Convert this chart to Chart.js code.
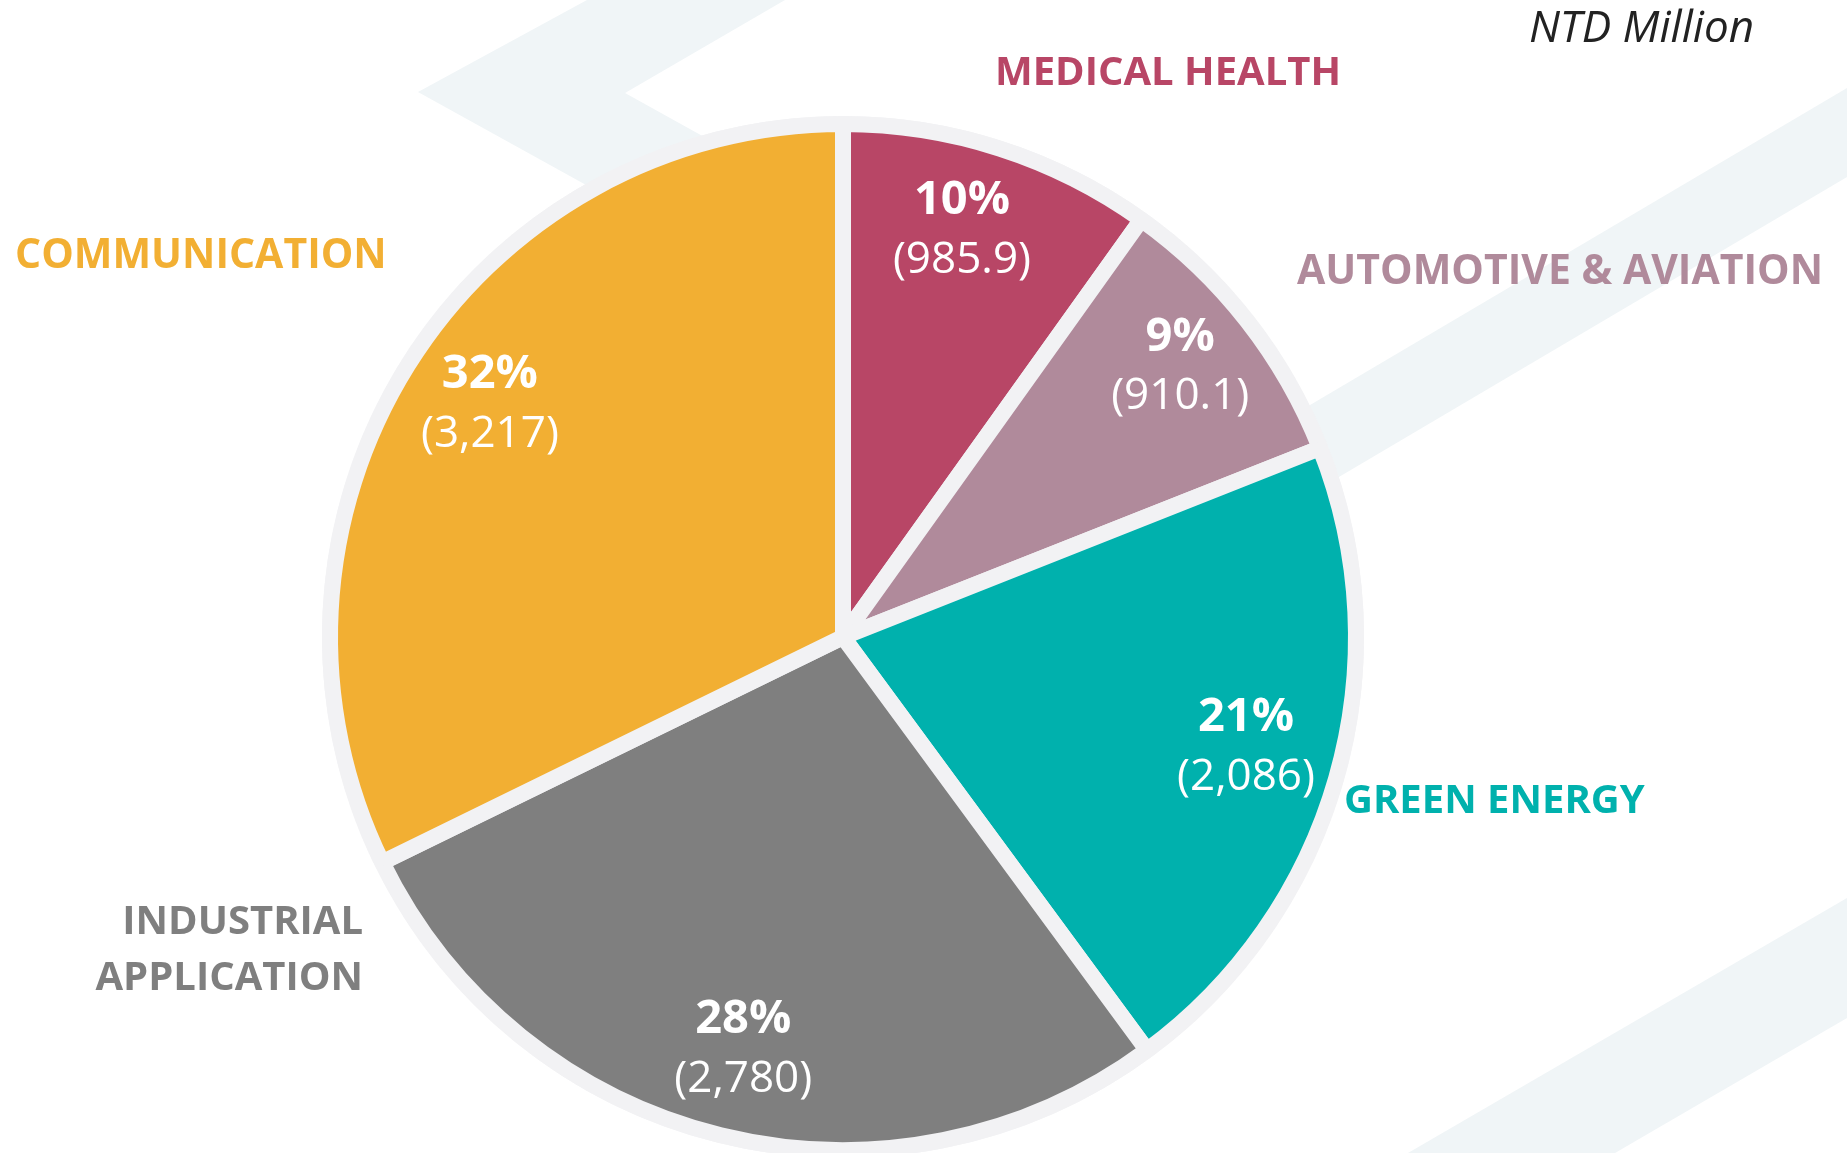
<!DOCTYPE html>
<html>
<head>
<meta charset="utf-8">
<script src="https://cdn.jsdelivr.net/npm/chart.js@4/dist/chart.umd.min.js"></script>
<style>
  html, body { margin: 0; padding: 0; background: #ffffff; }
  #wrap { width: 1847px; height: 1153px; position: relative; }
</style>
</head>
<body>
<div id="wrap"><canvas id="c" width="1847" height="1153"></canvas></div>
<script>
// ---- data ----
const categories = ['MEDICAL HEALTH', 'AUTOMOTIVE & AVIATION', 'GREEN ENERGY', 'INDUSTRIAL APPLICATION', 'COMMUNICATION'];
const values = [985.9, 910.1, 2086, 2780, 3217];
const unitLabel = 'NTD Million';

// ---- styles ----
const sliceColors = ['#B84666', '#B08A9B', '#00B1AD', '#7F7F7F', '#F2AF33'];
const ringColor = '#F2F2F4';
const bandColor = '#F0F5F7';

// in-slice label placement: fraction of radius and angle shift (degrees) from slice middle
const innerLabelRadius = [0.832, 0.846, 0.813, 0.821, 0.828];
const innerLabelShift = [-1.6, -1.0, -1.1, -0.1, 1.8];

// category label placement (text lines, anchor x, caps-center y of first line, alignment, font size)
const catLabelLayout = [
  { lines: ['MEDICAL HEALTH'], x: 995, y: 71, align: 'left', size: 40 },
  { lines: ['AUTOMOTIVE & AVIATION'], x: 1297, y: 269, align: 'left', size: 41 },
  { lines: ['GREEN ENERGY'], x: 1344, y: 799, align: 'left', size: 40 },
  { lines: ['INDUSTRIAL', 'APPLICATION'], x: 363, y: 920, align: 'right', size: 40 },
  { lines: ['COMMUNICATION'], x: 15, y: 253, align: 'left', size: 41 }
];

function capsText(ctx, text, x, capCenterY, size) {
  ctx.textBaseline = 'alphabetic';
  ctx.fillText(text, x, capCenterY + size * 0.714 / 2);
}

const bgPlugin = {
  id: 'bg',
  beforeDraw(chart) {
    const ctx = chart.ctx;
    ctx.save();
    ctx.fillStyle = '#ffffff';
    ctx.fillRect(0, 0, chart.width, chart.height);
    ctx.fillStyle = bandColor;
    const polys = [
      [[587, 0], [785, 0], [625, 93], [843, 214], [843, 637], [700, 248], [418, 92]],
      [[1847, 88], [1847, 177], [1200, 559], [1200, 470]],
      [[1847, 898], [1847, 1018], [1615, 1153], [1408, 1153]]
    ];
    polys.forEach(p => {
      ctx.beginPath();
      p.forEach((pt, i) => i ? ctx.lineTo(pt[0], pt[1]) : ctx.moveTo(pt[0], pt[1]));
      ctx.closePath();
      ctx.fill();
    });
    ctx.restore();
  },
  beforeDatasetsDraw(chart) {
    const meta = chart.getDatasetMeta(0);
    const a = meta.data[0];
    if (!a) return;
    const bw = chart.data.datasets[0].borderWidth;
    const ctx = chart.ctx;
    ctx.save();
    ctx.fillStyle = ringColor;
    ctx.beginPath();
    ctx.arc(a.x, a.y, a.outerRadius + bw / 2, 0, Math.PI * 2);
    ctx.fill();
    ctx.restore();
  },
  afterDatasetsDraw(chart) {
    const ctx = chart.ctx;
    const meta = chart.getDatasetMeta(0);
    const total = values.reduce((s, v) => s + v, 0);
    ctx.save();
    ctx.fillStyle = '#ffffff';
    ctx.textAlign = 'center';
    meta.data.forEach((arc, i) => {
      const mid = (arc.startAngle + arc.endAngle) / 2 + innerLabelShift[i] * Math.PI / 180;
      const r = arc.outerRadius * innerLabelRadius[i];
      const cx = arc.x + Math.cos(mid) * r;
      const cy = arc.y + Math.sin(mid) * r;
      const pct = Math.round(values[i] / total * 100) + '%';
      const val = '(' + values[i].toLocaleString('en-US', { maximumFractionDigits: 1 }) + ')';
      ctx.font = 'bold 47px "Open Sans"';
      capsText(ctx, pct, cx, cy - 30, 47);
      ctx.font = '44px "Open Sans"';
      capsText(ctx, val, cx, cy + 30, 44);
    });
    ctx.restore();
  },
  afterDraw(chart) {
    const ctx = chart.ctx;
    ctx.save();
    catLabelLayout.forEach((l, i) => {
      ctx.fillStyle = sliceColors[i];
      ctx.font = 'bold ' + l.size + 'px "Open Sans"';
      ctx.textAlign = l.align;
      l.lines.forEach((t, k) => capsText(ctx, t, l.x, l.y + k * 56, l.size));
    });
    ctx.fillStyle = '#222222';
    ctx.font = 'italic 44px "Open Sans"';
    ctx.textAlign = 'right';
    capsText(ctx, unitLabel, 1754, 26, 44);
    ctx.restore();
  }
};

new Chart(document.getElementById('c'), {
  type: 'pie',
  data: {
    labels: categories,
    datasets: [{
      data: values,
      backgroundColor: sliceColors,
      borderColor: ringColor,
      borderWidth: 16,
      radius: 513
    }]
  },
  options: {
    responsive: false,
    devicePixelRatio: 1,
    animation: false,
    layout: { padding: { top: 121, bottom: 0, left: 0, right: 161 } },
    plugins: {
      legend: { display: false },
      tooltip: { enabled: false }
    }
  },
  plugins: [bgPlugin]
});
</script>
</body>
</html>
